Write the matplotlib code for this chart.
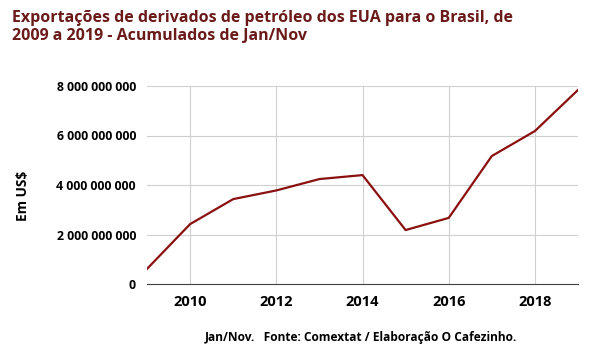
import matplotlib
matplotlib.use("Agg")
import matplotlib.pyplot as plt
from matplotlib.ticker import FuncFormatter

years = [2009, 2010, 2011, 2012, 2013, 2014, 2015, 2016, 2017, 2018, 2019]
exports = [0.61e9, 2.42e9, 3.43e9, 3.78e9, 4.24e9, 4.40e9, 2.18e9, 2.67e9, 5.17e9, 6.18e9, 7.84e9]

TITLE = "Exportações de derivados de petróleo dos EUA para o Brasil, de\n2009 a 2019 - Acumulados de Jan/Nov"
SOURCE = "Jan/Nov.   Fonte: Comextat / Elaboração O Cafezinho."

plt.rcParams['font.family'] = ['Open Sans', 'DejaVu Sans']

fig = plt.figure(figsize=(5.9, 3.56), dpi=100)
ax = fig.add_axes([147/590, 1 - 284/356, 431/590, 198/356])

ax.plot(years, exports, color='#8b1010', linewidth=1.6)

ax.set_xlim(2009, 2019)
ax.set_ylim(0, 8e9)
ax.set_xticks([2010, 2012, 2014, 2016, 2018])
ax.set_yticks([0, 2e9, 4e9, 6e9, 8e9])
ax.yaxis.set_major_formatter(FuncFormatter(lambda v, p: f"{int(v):,}".replace(",", " ")))
ax.grid(True, color='#d0d0d0', linewidth=0.8)
ax.set_axisbelow(True)
for s in ['top', 'right', 'left']:
    ax.spines[s].set_visible(False)
ax.spines['bottom'].set_color('#404040')
ax.tick_params(length=0)
for lb in ax.get_yticklabels():
    lb.set_fontsize(8.8)
    lb.set_fontweight('bold')
for lb in ax.get_xticklabels():
    lb.set_fontsize(10.5)
    lb.set_fontweight('bold')
ax.tick_params(axis='x', pad=8)
ax.tick_params(axis='y', pad=8)

fig.text(23/590, 1 - 196/356, "Em US$", rotation=90, fontsize=9.8, fontweight='bold',
         ha='center', va='center')
fig.text(12/590, 1 - 10/356, TITLE, fontsize=11.5, fontweight='bold', color='#6b1a1a',
         ha='left', va='top', linespacing=1.2)
fig.text(361/590, 1 - 337/356, SOURCE, fontsize=8.6, fontweight='bold', ha='center', va='center')

fig.savefig("out.png", dpi=100)
